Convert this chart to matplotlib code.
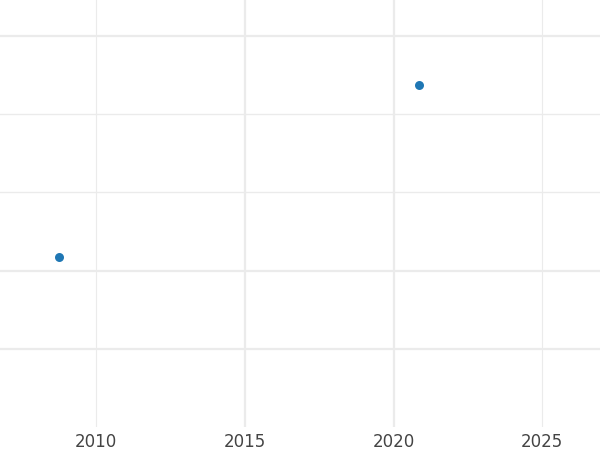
import numpy as np
import matplotlib.pyplot as plt

# data
years = [2008.75, 2020.85]
values = [2.17, 4.37]

x_ticks = [2010, 2015, 2020, 2025]
x_labels = ['2010', '2015', '2020', '2025']
y_grid = [1, 2, 3, 4, 5]

fig = plt.figure(figsize=(6, 4.5), dpi=100)
ax = fig.add_axes([0, 0.051, 1, 0.949])

ax.scatter(years, values, s=42, color='#1f77b4', zorder=3, linewidths=0)

ax.set_xlim(2006.77, 2026.94)
ax.set_ylim(0, 5.46)
ax.set_xticks(x_ticks)
ax.set_xticklabels(x_labels)
ax.set_yticks(y_grid)
ax.set_yticklabels([])
ax.tick_params(axis='both', length=0)
ax.tick_params(axis='x', labelsize=12, labelcolor='#444444', pad=4)

ax.grid(True, color='#ebebeb', zorder=0)
for line, w in zip(ax.get_xgridlines(), [0.8, 1.6, 1.6, 0.8]):
    line.set_linewidth(w)
for line, w in zip(ax.get_ygridlines(), [1.6, 1.6, 1.0, 1.0, 1.6]):
    line.set_linewidth(w)
ax.set_axisbelow(True)

for s in ax.spines.values():
    s.set_visible(False)

plt.savefig('out.png', dpi=100)
